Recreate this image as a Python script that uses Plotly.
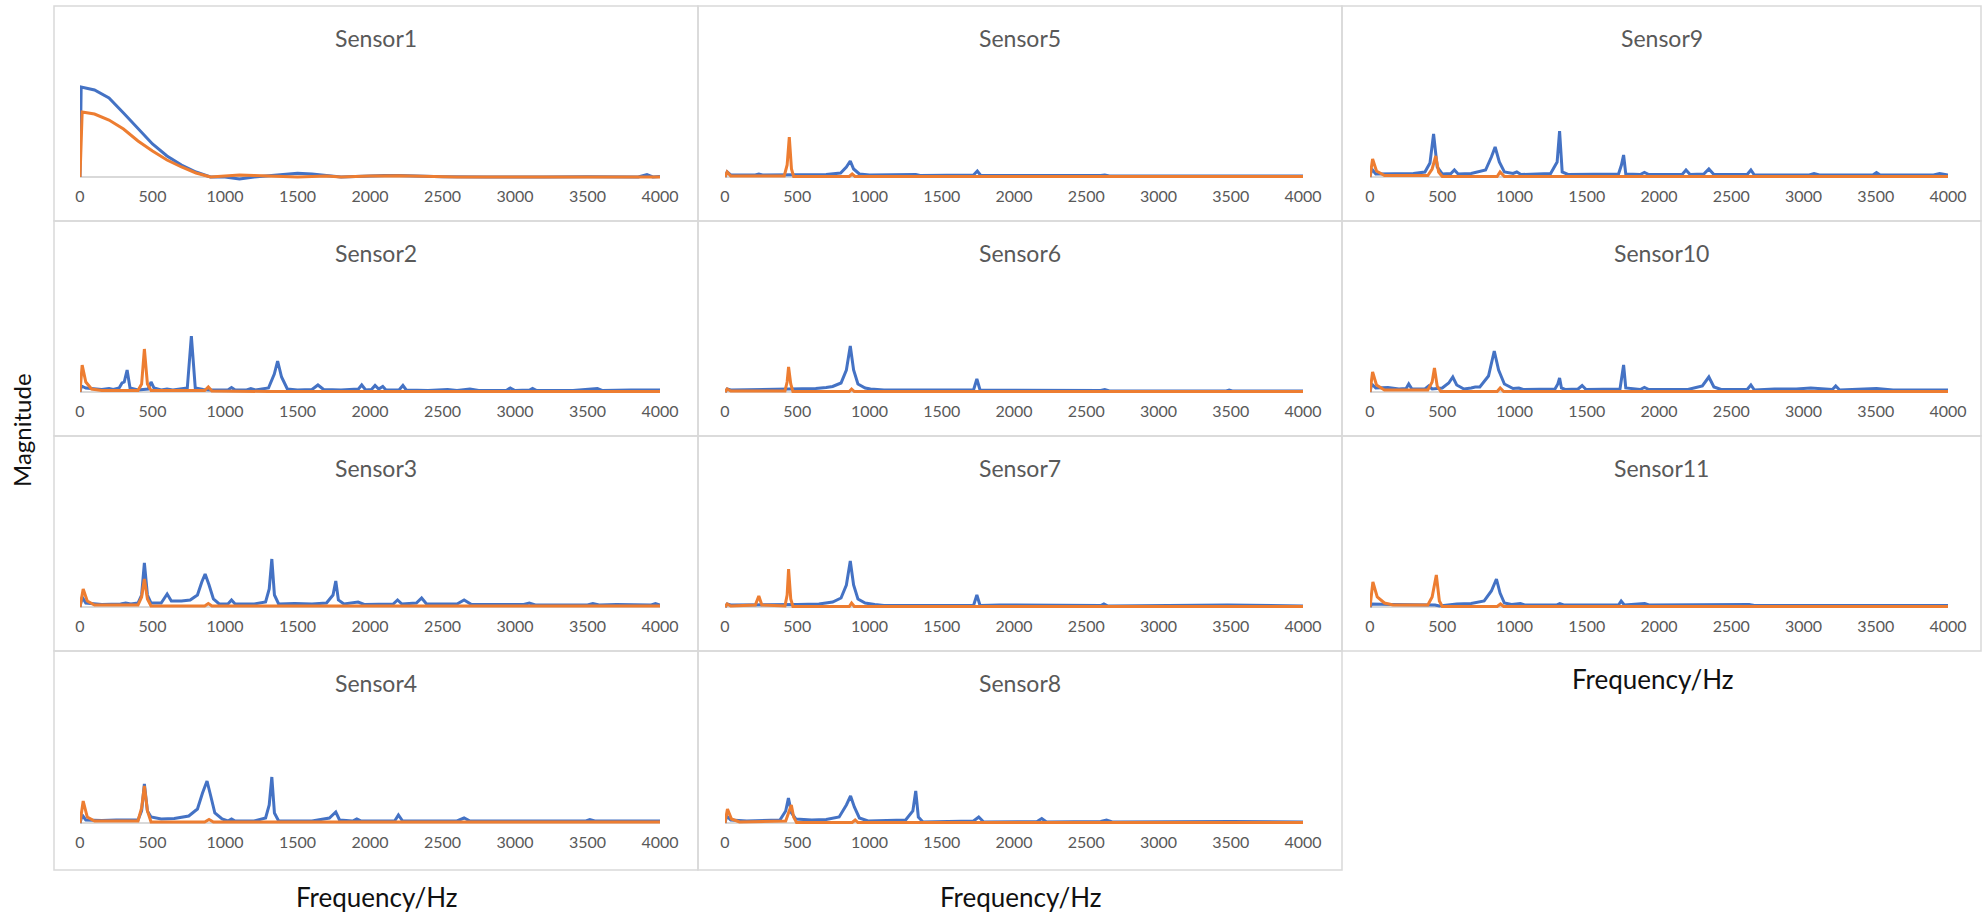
import plotly.graph_objects as go

# ---------------- data (frequency Hz, magnitude) ----------------
sensor_names = ["Sensor1", "Sensor2", "Sensor3", "Sensor4", "Sensor5", "Sensor6",
                "Sensor7", "Sensor8", "Sensor9", "Sensor10", "Sensor11"]
x_ticks = [0, 500, 1000, 1500, 2000, 2500, 3000, 3500, 4000]

sensor1_blue = [(0, 0.0), (8, 0.90), (100, 0.87), (200, 0.79), (300, 0.64), (400, 0.48), (500, 0.33),
                (600, 0.21), (700, 0.12), (800, 0.05), (900, 0.0), (1000, 0.0), (1100, -0.02), (1200, 0.0),
                (1300, 0.015), (1400, 0.03), (1500, 0.038), (1600, 0.03), (1700, 0.015), (1800, 0.0),
                (1900, 0.005), (2000, 0.012), (2100, 0.016), (2200, 0.014), (2300, 0.01), (2500, 0.003),
                (2800, 0.0), (3000, 0.003), (3200, 0.0), (3500, 0.002), (3850, 0.0), (3910, 0.025),
                (3950, 0.0), (4000, 0.005)]
sensor1_orange = [(0, 0.0), (15, 0.65), (100, 0.63), (200, 0.57), (300, 0.48), (400, 0.36), (500, 0.26),
                  (600, 0.17), (700, 0.10), (800, 0.04), (900, 0.0), (1000, 0.012), (1100, 0.02),
                  (1200, 0.015), (1300, 0.01), (1400, 0.0), (1500, 0.0), (1600, 0.005), (1700, 0.01),
                  (1800, 0.0), (1900, 0.005), (2000, 0.01), (2200, 0.012), (2400, 0.005), (2600, 0.0),
                  (3000, 0.0), (3500, 0.0), (4000, 0.0)]

sensor2_blue = [(0, 0.0), (10, 0.06), (40, 0.04), (100, 0.03), (150, 0.025), (200, 0.035), (230, 0.025),
                (270, 0.04), (290, 0.09), (305, 0.10), (325, 0.22), (345, 0.04), (400, 0.02), (470, 0.03),
                (490, 0.10), (510, 0.04), (560, 0.02), (600, 0.03), (640, 0.02), (740, 0.04), (768, 0.56),
                (795, 0.04), (850, 0.025), (900, 0.02), (1020, 0.02), (1045, 0.045), (1070, 0.02),
                (1150, 0.02), (1178, 0.035), (1210, 0.02), (1300, 0.04), (1340, 0.18), (1363, 0.31),
                (1390, 0.15), (1430, 0.03), (1500, 0.02), (1600, 0.025), (1641, 0.07), (1680, 0.025),
                (1800, 0.02), (1920, 0.03), (1943, 0.07), (1970, 0.02), (2010, 0.025), (2035, 0.065),
                (2060, 0.03), (2088, 0.055), (2110, 0.02), (2200, 0.02), (2227, 0.065), (2250, 0.02),
                (2400, 0.015), (2535, 0.025), (2600, 0.015), (2689, 0.03), (2750, 0.015), (2940, 0.015),
                (2967, 0.04), (3000, 0.015), (3100, 0.02), (3121, 0.035), (3150, 0.015), (3400, 0.015),
                (3568, 0.035), (3600, 0.015), (3800, 0.02), (4000, 0.02)]
sensor2_orange = [(0, 0.0), (15, 0.27), (40, 0.10), (80, 0.03), (150, 0.015), (400, 0.015), (425, 0.08),
                  (444, 0.43), (465, 0.08), (490, 0.015), (860, 0.015), (885, 0.05), (910, 0.01),
                  (1300, 0.005), (4000, 0.005)]

sensor3_blue = [(0, 0.0), (15, 0.10), (40, 0.04), (150, 0.025), (280, 0.03), (315, 0.04), (350, 0.03),
                (400, 0.04), (425, 0.12), (444, 0.44), (465, 0.12), (490, 0.04), (560, 0.04), (601, 0.13),
                (630, 0.06), (700, 0.06), (760, 0.07), (810, 0.12), (840, 0.25), (863, 0.33), (890, 0.22),
                (920, 0.08), (960, 0.03), (1020, 0.03), (1045, 0.07), (1070, 0.03), (1200, 0.03),
                (1280, 0.05), (1305, 0.18), (1323, 0.48), (1341, 0.12), (1370, 0.03), (1480, 0.035),
                (1600, 0.03), (1700, 0.04), (1745, 0.12), (1764, 0.26), (1782, 0.07), (1820, 0.03),
                (1918, 0.05), (1960, 0.025), (2160, 0.03), (2190, 0.07), (2220, 0.03), (2320, 0.04),
                (2356, 0.09), (2390, 0.03), (2600, 0.03), (2649, 0.07), (2700, 0.025), (3060, 0.025),
                (3099, 0.04), (3140, 0.02), (3500, 0.02), (3537, 0.035), (3580, 0.02), (3700, 0.025),
                (3940, 0.02), (3969, 0.035), (4000, 0.02)]
sensor3_orange = [(0, 0.0), (22, 0.18), (50, 0.06), (100, 0.02), (400, 0.02), (425, 0.10), (444, 0.28),
                  (465, 0.08), (490, 0.01), (860, 0.01), (885, 0.035), (910, 0.01), (1500, 0.01),
                  (4000, 0.01)]

sensor4_blue = [(0, 0.0), (15, 0.08), (40, 0.03), (150, 0.025), (250, 0.03), (400, 0.03), (425, 0.12),
                (444, 0.39), (465, 0.12), (490, 0.06), (560, 0.04), (650, 0.045), (750, 0.07), (810, 0.14),
                (845, 0.30), (876, 0.42), (900, 0.28), (930, 0.10), (980, 0.04), (1020, 0.02),
                (1045, 0.04), (1070, 0.02), (1200, 0.02), (1280, 0.05), (1305, 0.18), (1323, 0.46),
                (1341, 0.10), (1370, 0.02), (1600, 0.02), (1720, 0.05), (1764, 0.11), (1790, 0.03),
                (1880, 0.02), (1909, 0.04), (1940, 0.02), (2170, 0.02), (2196, 0.08), (2225, 0.02),
                (2600, 0.02), (2649, 0.05), (2690, 0.02), (3044, 0.025), (3100, 0.02), (3490, 0.02),
                (3516, 0.035), (3550, 0.02), (4000, 0.02)]
sensor4_orange = [(0, 0.0), (22, 0.22), (50, 0.06), (100, 0.02), (400, 0.02), (425, 0.15), (444, 0.37),
                  (465, 0.12), (490, 0.01), (860, 0.01), (890, 0.035), (920, 0.01), (4000, 0.01)]

sensor5_blue = [(0, 0.0), (15, 0.05), (40, 0.02), (210, 0.02), (234, 0.03), (260, 0.02), (700, 0.025),
                (800, 0.04), (840, 0.10), (867, 0.16), (890, 0.08), (930, 0.03), (1000, 0.02), (1300, 0.02),
                (1320, 0.025), (1350, 0.015), (1720, 0.02), (1746, 0.06), (1770, 0.015), (2600, 0.015),
                (2628, 0.02), (2660, 0.01), (4000, 0.01)]
sensor5_orange = [(0, 0.0), (15, 0.05), (40, 0.01), (410, 0.01), (430, 0.12), (445, 0.40), (460, 0.08),
                  (475, 0.005), (860, 0.005), (880, 0.03), (900, 0.005), (4000, 0.005)]

sensor6_blue = [(0, 0.0), (15, 0.03), (40, 0.02), (300, 0.025), (500, 0.03), (628, 0.035), (700, 0.045),
                (745, 0.055), (803, 0.09), (840, 0.22), (867, 0.46), (890, 0.22), (920, 0.08), (970, 0.04),
                (1007, 0.03), (1100, 0.02), (1720, 0.02), (1743, 0.13), (1765, 0.02), (2600, 0.015),
                (2628, 0.025), (2660, 0.01), (3470, 0.01), (3489, 0.02), (3510, 0.01), (4000, 0.01)]
sensor6_orange = [(0, 0.0), (15, 0.03), (40, 0.01), (415, 0.01), (430, 0.10), (440, 0.25), (455, 0.08),
                  (470, 0.005), (860, 0.005), (876, 0.03), (895, 0.005), (4000, 0.005)]

sensor7_blue = [(0, 0.0), (15, 0.03), (40, 0.02), (300, 0.02), (500, 0.025), (650, 0.03), (745, 0.05),
                (803, 0.09), (840, 0.22), (867, 0.46), (890, 0.22), (920, 0.08), (970, 0.04), (1036, 0.025),
                (1100, 0.015), (1720, 0.015), (1743, 0.12), (1765, 0.015), (1900, 0.02), (2600, 0.015),
                (2622, 0.03), (2650, 0.01), (3480, 0.02), (4000, 0.01)]
sensor7_orange = [(0, 0.0), (15, 0.03), (40, 0.01), (210, 0.02), (234, 0.11), (255, 0.02), (415, 0.01),
                  (430, 0.12), (440, 0.38), (455, 0.08), (470, 0.005), (860, 0.005), (876, 0.04),
                  (895, 0.005), (4000, 0.005)]

sensor8_blue = [(0, 0.0), (12, 0.07), (40, 0.03), (150, 0.02), (380, 0.03), (420, 0.12), (439, 0.25),
                (460, 0.10), (490, 0.04), (600, 0.03), (700, 0.035), (790, 0.06), (840, 0.18), (869, 0.27),
                (895, 0.16), (930, 0.05), (990, 0.02), (1250, 0.03), (1300, 0.12), (1320, 0.32),
                (1338, 0.06), (1370, 0.01), (1720, 0.02), (1756, 0.06), (1790, 0.01), (2160, 0.015),
                (2192, 0.045), (2225, 0.01), (2600, 0.015), (2640, 0.03), (2680, 0.01), (3061, 0.015),
                (3506, 0.015), (4000, 0.01)]
sensor8_orange = [(0, 0.0), (17, 0.14), (45, 0.04), (100, 0.01), (420, 0.02), (440, 0.10), (459, 0.18),
                  (475, 0.06), (495, 0.005), (880, 0.005), (901, 0.03), (920, 0.005), (4000, 0.005)]

sensor9_blue = [(0, 0.0), (12, 0.08), (40, 0.03), (150, 0.03), (300, 0.035), (380, 0.05), (415, 0.14),
                (440, 0.43), (465, 0.10), (500, 0.03), (560, 0.035), (584, 0.07), (610, 0.03), (700, 0.035),
                (800, 0.07), (840, 0.20), (866, 0.30), (895, 0.15), (930, 0.05), (990, 0.035), (1016, 0.05),
                (1045, 0.025), (1250, 0.035), (1295, 0.15), (1312, 0.46), (1330, 0.05), (1370, 0.025),
                (1720, 0.03), (1740, 0.12), (1755, 0.22), (1770, 0.03), (1870, 0.025), (1899, 0.045),
                (1930, 0.025), (2160, 0.025), (2187, 0.07), (2215, 0.025), (2310, 0.03), (2345, 0.08),
                (2380, 0.025), (2610, 0.025), (2636, 0.07), (2660, 0.02), (3040, 0.02), (3073, 0.035),
                (3110, 0.02), (3480, 0.02), (3505, 0.045), (3530, 0.02), (3900, 0.02), (3942, 0.035),
                (4000, 0.02)]
sensor9_orange = [(0, 0.0), (18, 0.18), (45, 0.06), (100, 0.015), (400, 0.015), (430, 0.08), (455, 0.21),
                  (475, 0.05), (500, 0.005), (880, 0.005), (900, 0.05), (930, 0.005), (4000, 0.005)]

sensor10_blue = [(0, 0.0), (12, 0.08), (40, 0.04), (124, 0.045), (200, 0.03), (250, 0.035), (268, 0.08),
                 (290, 0.03), (380, 0.03), (406, 0.06), (430, 0.03), (500, 0.04), (545, 0.09), (573, 0.15),
                 (600, 0.07), (650, 0.03), (700, 0.04), (728, 0.05), (760, 0.05), (820, 0.16), (860, 0.41),
                 (890, 0.22), (930, 0.08), (990, 0.035), (1030, 0.04), (1060, 0.025), (1280, 0.03),
                 (1300, 0.08), (1312, 0.14), (1325, 0.04), (1350, 0.025), (1440, 0.03), (1468, 0.065),
                 (1495, 0.025), (1730, 0.03), (1745, 0.15), (1755, 0.27), (1770, 0.04), (1870, 0.025),
                 (1899, 0.045), (1930, 0.025), (2200, 0.025), (2300, 0.06), (2345, 0.15), (2380, 0.05),
                 (2430, 0.025), (2610, 0.025), (2636, 0.07), (2660, 0.02), (2800, 0.03), (2950, 0.03),
                 (3050, 0.04), (3090, 0.035), (3200, 0.025), (3223, 0.06), (3250, 0.02), (3505, 0.035),
                 (3620, 0.02), (3942, 0.02), (4000, 0.02)]
sensor10_orange = [(0, 0.0), (18, 0.20), (45, 0.07), (100, 0.02), (400, 0.02), (430, 0.10), (446, 0.24),
                   (465, 0.06), (490, 0.005), (880, 0.005), (901, 0.04), (925, 0.005), (4000, 0.005)]

sensor11_blue = [(0, 0.0), (12, 0.03), (150, 0.025), (400, 0.02), (450, 0.02), (480, 0.01), (600, 0.03),
                 (700, 0.035), (790, 0.06), (840, 0.16), (875, 0.28), (900, 0.14), (930, 0.04), (980, 0.025),
                 (1041, 0.035), (1070, 0.02), (1290, 0.02), (1313, 0.035), (1340, 0.02), (1720, 0.02),
                 (1738, 0.06), (1760, 0.02), (1901, 0.035), (1930, 0.02), (2624, 0.025), (2660, 0.015),
                 (4000, 0.015)]
sensor11_orange = [(0, 0.0), (20, 0.25), (50, 0.10), (100, 0.04), (160, 0.02), (400, 0.02), (430, 0.10),
                   (459, 0.32), (480, 0.06), (500, 0.005), (880, 0.005), (903, 0.03), (925, 0.005),
                   (4000, 0.005)]

blue_series = [sensor1_blue, sensor2_blue, sensor3_blue, sensor4_blue, sensor5_blue, sensor6_blue,
               sensor7_blue, sensor8_blue, sensor9_blue, sensor10_blue, sensor11_blue]
orange_series = [sensor1_orange, sensor2_orange, sensor3_orange, sensor4_orange, sensor5_orange,
                 sensor6_orange, sensor7_orange, sensor8_orange, sensor9_orange, sensor10_orange,
                 sensor11_orange]

# ---------------- layout geometry (pixels) ----------------
W, H = 1982, 913
FONT = "Lato, Carlito, Calibri, sans-serif"
BLUE = "#4472C4"
ORANGE = "#ED7D31"
BORDER = "#D9D9D9"
TEXT_GRAY = "#595959"

panel_cols = [(54, 698), (698, 1342), (1342, 1981)]
plot_cols = [(80, 660), (725, 1303), (1370, 1948)]
panel_rows = [(6, 221), (221, 436), (436, 651), (651, 870)]
baselines = [177, 392, 607, 823]
# (col, row) for each sensor
positions = [(0, 0), (0, 1), (0, 2), (0, 3), (1, 0), (1, 1), (1, 2), (1, 3), (2, 0), (2, 1), (2, 2)]

Y_LO, Y_HI = -0.05, 1.2
PX_PER_UNIT = 100.0


def px_x(p):
    return p / W


def px_y(p):
    return 1 - p / H


fig = go.Figure()
layout = dict(
    width=W, height=H, autosize=False, margin=dict(l=0, r=0, t=0, b=0, pad=0, autoexpand=False),
    paper_bgcolor="white", plot_bgcolor="white", showlegend=False,
    font=dict(family=FONT, color=TEXT_GRAY),
)
shapes = []
annotations = []

for i, name in enumerate(sensor_names):
    c, r = positions[i]
    n = i + 1
    xa = "x" if n == 1 else f"x{n}"
    ya = "y" if n == 1 else f"y{n}"
    fig.add_trace(go.Scatter(x=[p[0] for p in blue_series[i]], y=[p[1] for p in blue_series[i]],
                             mode="lines", line=dict(color=BLUE, width=3), xaxis=xa, yaxis=ya,
                             hoverinfo="skip"))
    fig.add_trace(go.Scatter(x=[p[0] for p in orange_series[i]], y=[p[1] for p in orange_series[i]],
                             mode="lines", line=dict(color=ORANGE, width=3), xaxis=xa, yaxis=ya,
                             hoverinfo="skip"))
    base = baselines[r]
    y_bottom = base - Y_LO * PX_PER_UNIT
    y_top = base - Y_HI * PX_PER_UNIT
    xk = "xaxis" if n == 1 else f"xaxis{n}"
    yk = "yaxis" if n == 1 else f"yaxis{n}"
    layout[xk] = dict(domain=[px_x(plot_cols[c][0]), px_x(plot_cols[c][1])], range=[0, 4000],
                      anchor=ya, tickvals=x_ticks, ticktext=[str(t) for t in x_ticks],
                      showgrid=False, zeroline=False, showline=False, ticks="",
                      ticklabelstandoff=3, automargin=False,
                      tickfont=dict(family=FONT, size=16, color=TEXT_GRAY), fixedrange=True)
    layout[yk] = dict(domain=[px_y(y_bottom), px_y(y_top)], range=[Y_LO, Y_HI], anchor=xa,
                      showgrid=False, zeroline=True, zerolinecolor=BORDER, zerolinewidth=1.5,
                      showticklabels=False, showline=False, ticks="", fixedrange=True,
                      automargin=False)
    # panel border
    x0, x1 = panel_cols[c]
    y0, y1 = panel_rows[r]
    shapes.append(dict(type="rect", xref="paper", yref="paper", x0=px_x(x0), x1=px_x(x1),
                       y0=px_y(y1), y1=px_y(y0), line=dict(color=BORDER, width=1.5), layer="below"))
    annotations.append(dict(text=name, xref="paper", yref="paper", x=px_x((x0 + x1) / 2),
                            y=px_y(y0 + 32), xanchor="center", yanchor="middle", showarrow=False,
                            font=dict(family=FONT, size=23, color=TEXT_GRAY)))

annotations.append(dict(text="Magnitude", xref="paper", yref="paper", x=px_x(21), y=px_y(430),
                        xanchor="center", yanchor="middle", textangle=-90, showarrow=False,
                        font=dict(family=FONT, size=24, color="#111111")))
for (fx, fy) in [(376, 897), (1020, 897), (1652, 679)]:
    annotations.append(dict(text="Frequency/Hz", xref="paper", yref="paper", x=px_x(fx), y=px_y(fy),
                            xanchor="center", yanchor="middle", showarrow=False,
                            font=dict(family=FONT, size=26, color="#111111")))

layout["shapes"] = shapes
layout["annotations"] = annotations
fig.update_layout(**layout)
fig.write_html("out.html",
               config={"responsive": False, "displayModeBar": False, "staticPlot": True},
               post_script="document.body.style.margin='0px';document.body.style.overflow='hidden';")
